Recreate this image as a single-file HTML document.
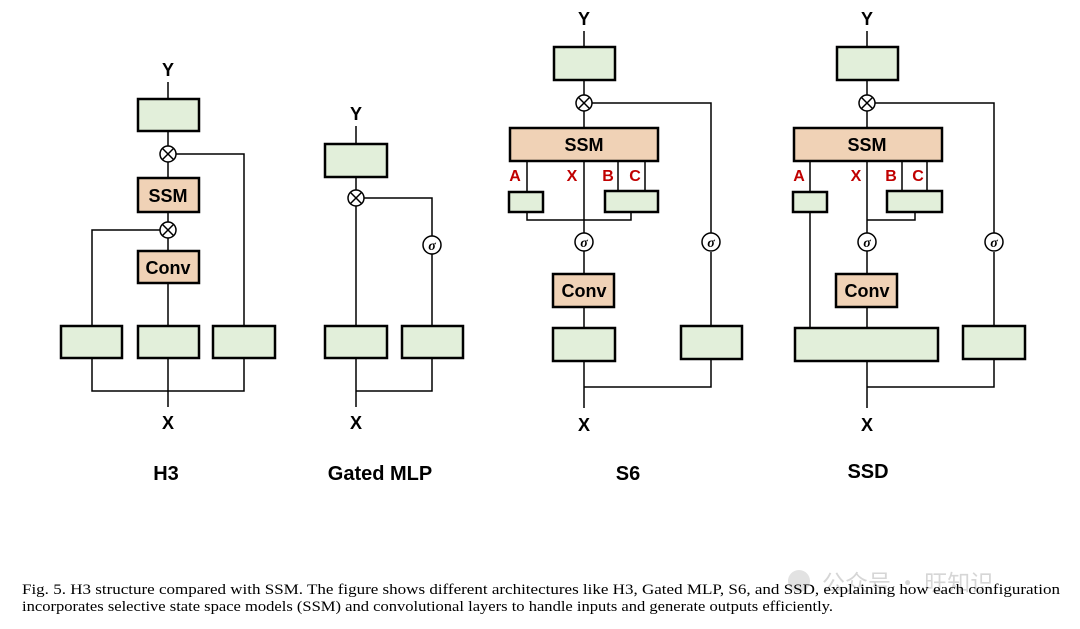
<!DOCTYPE html>
<html><head><meta charset="utf-8"><style>
html,body{margin:0;padding:0;background:#fff;width:1080px;height:629px;overflow:hidden}
svg{display:block}
.g{fill:#e2efda;stroke:#000;stroke-width:2.5}
.o{fill:#f0d2b6;stroke:#000;stroke-width:2.5}
.l{stroke:#000;stroke-width:1.5;fill:none}
.c{fill:#fff;stroke:#000;stroke-width:1.5}
.t{font-family:"Liberation Sans",sans-serif;font-weight:bold;font-size:18px;text-anchor:middle}
.r{font-family:"Liberation Sans",sans-serif;font-weight:bold;font-size:16px;text-anchor:middle;fill:#c00000}
.ti{font-family:"Liberation Sans",sans-serif;font-weight:bold;font-size:20px;text-anchor:middle}
.s{font-family:"Liberation Serif",serif;font-style:italic;font-weight:bold;font-size:14px;text-anchor:middle}
.cap{font-family:"Liberation Serif",serif;font-size:15px}
</style></head><body>
<svg width="1080" height="629" viewBox="0 0 1080 629">
<defs>
<g id="ot"><circle class="c" r="8"/><line class="l" x1="-5.6" y1="-5.6" x2="5.6" y2="5.6"/><line class="l" x1="5.6" y1="-5.6" x2="-5.6" y2="5.6"/></g>
<g id="sg"><circle class="c" r="9"/><text class="s" y="5">σ</text></g>
</defs>

<!-- H3 -->
<text class="t" x="168" y="76">Y</text>
<path class="l" d="M168 82V99 M168 131V146 M176 154H244V326 M168 162V178 M168 212V222 M160 230H92V326 M168 238V251 M168 283V326 M92 358V391H244V358 M168 358V407"/>
<rect class="g" x="138" y="99" width="61" height="32"/>
<use href="#ot" x="168" y="154"/>
<rect class="o" x="138" y="178" width="61" height="34"/>
<text class="t" x="168" y="202">SSM</text>
<use href="#ot" x="168" y="230"/>
<rect class="o" x="138" y="251" width="61" height="32"/>
<text class="t" x="168" y="274">Conv</text>
<rect class="g" x="61" y="326" width="61" height="32"/>
<rect class="g" x="138" y="326" width="61" height="32"/>
<rect class="g" x="213" y="326" width="62" height="32"/>
<text class="t" x="168" y="429">X</text>
<text class="ti" x="166" y="480">H3</text>

<!-- Gated MLP -->
<text class="t" x="356" y="120">Y</text>
<path class="l" d="M356 126V144 M356 177V190 M364 198H432V236 M432 254V326 M356 206V326 M356 358V391H432V358 M356 391V407"/>
<rect class="g" x="325" y="144" width="62" height="33"/>
<use href="#ot" x="356" y="198"/>
<use href="#sg" x="432" y="245"/>
<rect class="g" x="325" y="326" width="62" height="32"/>
<rect class="g" x="402" y="326" width="61" height="32"/>
<text class="t" x="356" y="429">X</text>
<text class="ti" x="380" y="480">Gated MLP</text>

<!-- S6 -->
<text class="t" x="584" y="25">Y</text>
<path class="l" d="M584 31V47 M584 80V95 M592 103H711V234 M711 252V326 M584 111V128 M527 161V192 M584 161V233 M618 161V191 M645 161V191 M527 212V220H631V212 M584 251V274 M584 307V328 M584 361V408 M584 387H711V359"/>
<rect class="g" x="554" y="47" width="61" height="33"/>
<use href="#ot" x="584" y="103"/>
<rect class="o" x="510" y="128" width="148" height="33"/>
<text class="t" x="584" y="151">SSM</text>
<text class="r" x="515" y="181">A</text>
<text class="r" x="572" y="181">X</text>
<text class="r" x="608" y="181">B</text>
<text class="r" x="635" y="181">C</text>
<rect class="g" x="509" y="192" width="34" height="20"/>
<rect class="g" x="605" y="191" width="53" height="21"/>
<use href="#sg" x="584" y="242"/>
<use href="#sg" x="711" y="242"/>
<rect class="o" x="553" y="274" width="61" height="33"/>
<text class="t" x="584" y="297">Conv</text>
<rect class="g" x="553" y="328" width="62" height="33"/>
<rect class="g" x="681" y="326" width="61" height="33"/>
<text class="t" x="584" y="431">X</text>
<text class="ti" x="628" y="480">S6</text>

<!-- SSD -->
<text class="t" x="867" y="25">Y</text>
<path class="l" d="M867 31V47 M867 80V95 M875 103H994V234 M994 252V326 M867 111V128 M810 161V192 M810 212V328 M867 161V233 M902 161V191 M927 161V191 M867 220H915V212 M867 251V274 M867 307V328 M867 361V408 M867 387H994V359"/>
<rect class="g" x="837" y="47" width="61" height="33"/>
<use href="#ot" x="867" y="103"/>
<rect class="o" x="794" y="128" width="148" height="33"/>
<text class="t" x="867" y="151">SSM</text>
<text class="r" x="799" y="181">A</text>
<text class="r" x="856" y="181">X</text>
<text class="r" x="891" y="181">B</text>
<text class="r" x="918" y="181">C</text>
<rect class="g" x="793" y="192" width="34" height="20"/>
<rect class="g" x="887" y="191" width="55" height="21"/>
<use href="#sg" x="867" y="242"/>
<use href="#sg" x="994" y="242"/>
<rect class="o" x="836" y="274" width="61" height="33"/>
<text class="t" x="867" y="297">Conv</text>
<rect class="g" x="795" y="328" width="143" height="33"/>
<rect class="g" x="963" y="326" width="62" height="33"/>
<text class="t" x="867" y="431">X</text>
<text class="ti" x="868" y="478">SSD</text>

<!-- watermark -->
<circle cx="799" cy="581" r="11" fill="#e2e2e2"/>
<text x="822" y="591" font-family="'Noto Sans CJK SC',sans-serif" font-size="23" fill="#d6d6d6">公众号 · 旺知识</text>

<!-- caption -->
<text class="cap" x="22" y="594" textLength="1038" lengthAdjust="spacingAndGlyphs">Fig. 5.  H3 structure compared with SSM. The figure shows different architectures like H3, Gated MLP, S6, and SSD, explaining how each configuration</text>
<text class="cap" x="22" y="611" textLength="811" lengthAdjust="spacingAndGlyphs">incorporates selective state space models (SSM) and convolutional layers to handle inputs and generate outputs efficiently.</text>
</svg>
</body></html>
